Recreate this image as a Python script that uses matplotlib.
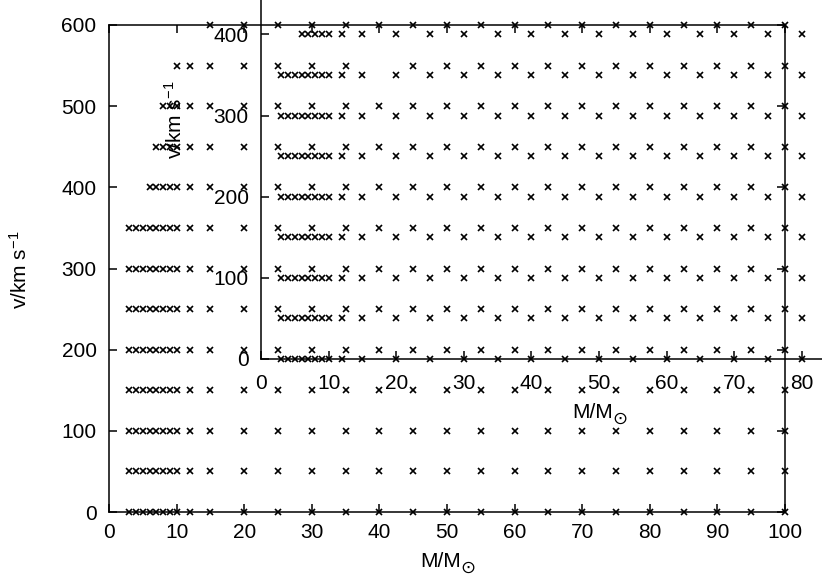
import matplotlib
matplotlib.use('Agg')
import matplotlib.pyplot as plt

plt.rcParams['font.family'] = ['Liberation Sans', 'DejaVu Sans']
plt.rcParams['mathtext.fontset'] = 'custom'
plt.rcParams['mathtext.rm'] = 'Liberation Sans'
plt.rcParams['mathtext.it'] = 'Liberation Sans'
plt.rcParams['mathtext.bf'] = 'Liberation Sans'

# ---- data (grid of models) ----
masses = [3, 4, 5, 6, 7, 8, 9, 10, 12, 15, 20, 25, 30, 35, 40, 45, 50, 55,
          60, 65, 70, 75, 80, 85, 90, 95, 100]
velocities = [0, 50, 100, 150, 200, 250, 300, 350, 400, 450, 500, 550, 600]
row_min_mass = [3, 3, 3, 3, 3, 3, 3, 3, 6, 7, 8, 10, 15]
missing_points = [(40, 550)]

main_xticks = [0, 10, 20, 30, 40, 50, 60, 70, 80, 90, 100]
main_yticks = [0, 100, 200, 300, 400, 500, 600]
inset_xticks = [0, 10, 20, 30, 40, 50, 60, 70, 80]
inset_yticks = [0, 100, 200, 300, 400]
xlabel_main = 'M/M'
xlabel_sub = '\u2299'
ylabel = r'v/km s$^{-1}$'

pm, pv = [], []
for v, mmin in zip(velocities, row_min_mass):
    for m in masses:
        if m >= mmin and (m, v) not in missing_points:
            pm.append(m)
            pv.append(v)

W, H = 822, 576
fig = plt.figure(figsize=(W / 100, H / 100), dpi=100)

FS = 15
LW = 1.1
TL = 5.8

# main axes
ax = fig.add_axes([109 / W, 1 - 512 / H, 676 / W, 487 / H])
ax.plot(pm, pv, linestyle='none', marker='x', ms=3.8, mew=1.2, color='black',
        clip_on=False)
ax.set_xlim(0, 100)
ax.set_ylim(0, 600)
ax.set_xticks(main_xticks)
ax.set_yticks(main_yticks)
ax.tick_params(direction='in', length=TL, width=LW, top=True, right=True,
               labelsize=FS)
ax.tick_params(axis='x', pad=8)
ax.tick_params(axis='y', pad=9)
for s in ax.spines.values():
    s.set_linewidth(LW)

# inset axes (same data, shifted frame)
x_scale = 676 / 100.0
y_scale = 487 / 600.0
ax2 = fig.add_axes([261 / W, 1 - 359 / H, (W - 261) / W, 359 / H])
ax2.patch.set_visible(False)
ax2.plot(pm, pv, linestyle='none', marker='x', ms=3.8, mew=1.2, color='black',
         clip_on=False)
ax2.set_xlim(0, (W - 261) / x_scale)
ax2.set_ylim(0, 359 / y_scale)
ax2.set_xticks(inset_xticks)
ax2.set_yticks(inset_yticks)
ax2.spines['top'].set_visible(False)
ax2.spines['right'].set_visible(False)
for s in ('left', 'bottom'):
    ax2.spines[s].set_linewidth(LW)
ax2.tick_params(direction='in', length=TL, width=LW, top=False, right=False,
                labelsize=FS)
ax2.tick_params(axis='x', pad=11)
ax2.tick_params(axis='y', pad=9)


def mass_label(xr, yb):
    t = fig.text(xr / W, 1 - yb / H, xlabel_main, ha='right', va='baseline',
                 fontsize=FS)
    fig.text((xr - 0.5) / W, 1 - (yb + 1) / H, xlabel_sub, ha='left',
             va='center', fontsize=13, family='DejaVu Sans')
    return t


# axis labels
mass_label(461, 567)
mass_label(613, 418)
fig.text(20 / W, 1 - 270 / H, ylabel, ha='center', va='center', fontsize=FS,
         rotation=90)
fig.text(175 / W, 1 - 120 / H, ylabel, ha='center', va='center', fontsize=FS,
         rotation=90)

fig.savefig('out.png', dpi=100)
